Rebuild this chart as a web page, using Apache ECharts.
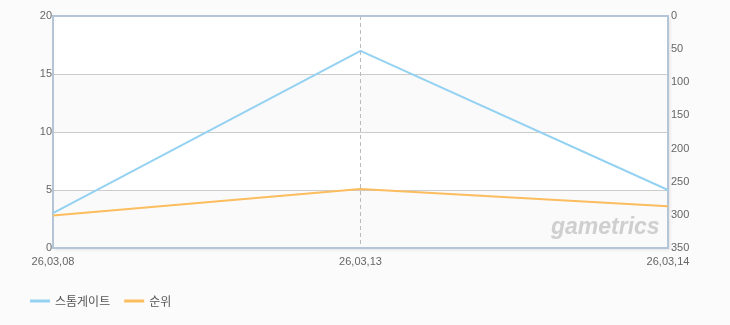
<!DOCTYPE html>
<html>
<head>
<meta charset="utf-8">
<script src="https://cdn.jsdelivr.net/npm/echarts@6/dist/echarts.min.js"></script>
<style>
html,body{margin:0;padding:0;background:#fbfbfb;}
#c{width:730px;height:325px;}
</style>
</head>
<body>
<div id="c"></div>
<script>
const categories = ['26,03,08', '26,03,13', '26,03,14'];
const seriesNames = ['스톰게이트', '순위'];
const stormgateValues = [3, 17, 5];
const rankValues = [301, 261, 287];
const leftTicks = [0, 5, 10, 15, 20];
const rightTicks = [0, 50, 100, 150, 200, 250, 300, 350];

const chart = echarts.init(document.getElementById('c'), null, {renderer: 'canvas'});
const labelFont = {color: '#666', fontSize: 11, fontFamily: 'Liberation Sans, Arial, sans-serif'};
const frame = {show: true, onZero: false, lineStyle: {color: '#b3c5d7', width: 2}};
chart.setOption({
  backgroundColor: '#fbfbfb',
  animation: false,
  grid: {
    left: 53, right: 62, top: 16, bottom: 77,
    show: true, backgroundColor: '#ffffff', borderWidth: 0,
    shadowColor: 'rgba(0,0,0,0.10)', shadowBlur: 3, shadowOffsetX: 2, shadowOffsetY: 2
  },
  legend: {
    left: 25, top: 290, itemWidth: 20, itemHeight: 10, itemGap: 14,
    data: seriesNames.map(n => ({name: n, icon: 'path://M0,4 L20,4 L20,7 L0,7 Z'})),
    textStyle: {color: '#555', fontSize: 12, fontFamily: 'Noto Sans CJK KR, sans-serif'}
  },
  xAxis: [
    {
      type: 'category', data: categories, boundaryGap: false, position: 'bottom',
      axisLine: frame, axisTick: {show: false},
      axisLabel: Object.assign({margin: 8, showMinLabel: true, showMaxLabel: true, interval: 0}, labelFont),
      splitLine: {show: true, interval: (i) => i > 0 && i < categories.length - 1,
        lineStyle: {color: '#bbbbbb', type: [4, 3], width: 1}}
    },
    {
      type: 'category', data: categories, boundaryGap: false, position: 'top',
      axisLine: frame, axisTick: {show: false}, axisLabel: {show: false}, splitLine: {show: false}
    }
  ],
  yAxis: [
    {
      type: 'value', min: leftTicks[0], max: leftTicks[leftTicks.length - 1], interval: 5,
      position: 'left',
      axisLine: frame, axisTick: {show: false},
      axisLabel: Object.assign({margin: 1}, labelFont),
      splitLine: {show: true, lineStyle: {color: '#cccccc', width: 1}},
      splitArea: {show: true, areaStyle: {color: ['#fafafa', '#ffffff']}}
    },
    {
      type: 'value', min: rightTicks[0], max: rightTicks[rightTicks.length - 1], interval: 50,
      position: 'right', inverse: true,
      axisLine: frame, axisTick: {show: false},
      axisLabel: Object.assign({margin: 3}, labelFont),
      splitLine: {show: false}
    }
  ],
  graphic: [{
    type: 'text', left: 551, top: 216, z: 1,
    style: {text: 'gametrics', fill: '#cfcfcf', font: 'italic bold 23px "Liberation Sans", sans-serif'}
  }],
  series: [
    {
      name: seriesNames[0], type: 'line', data: stormgateValues, yAxisIndex: 0,
      showSymbol: false, color: '#95d2f2', lineStyle: {width: 2, color: '#95d2f2'}, z: 3
    },
    {
      name: seriesNames[1], type: 'line', data: rankValues, yAxisIndex: 1,
      showSymbol: false, color: '#fbbd5e', lineStyle: {width: 2, color: '#fbbd5e'}, z: 3
    }
  ]
});
</script>
</body>
</html>
